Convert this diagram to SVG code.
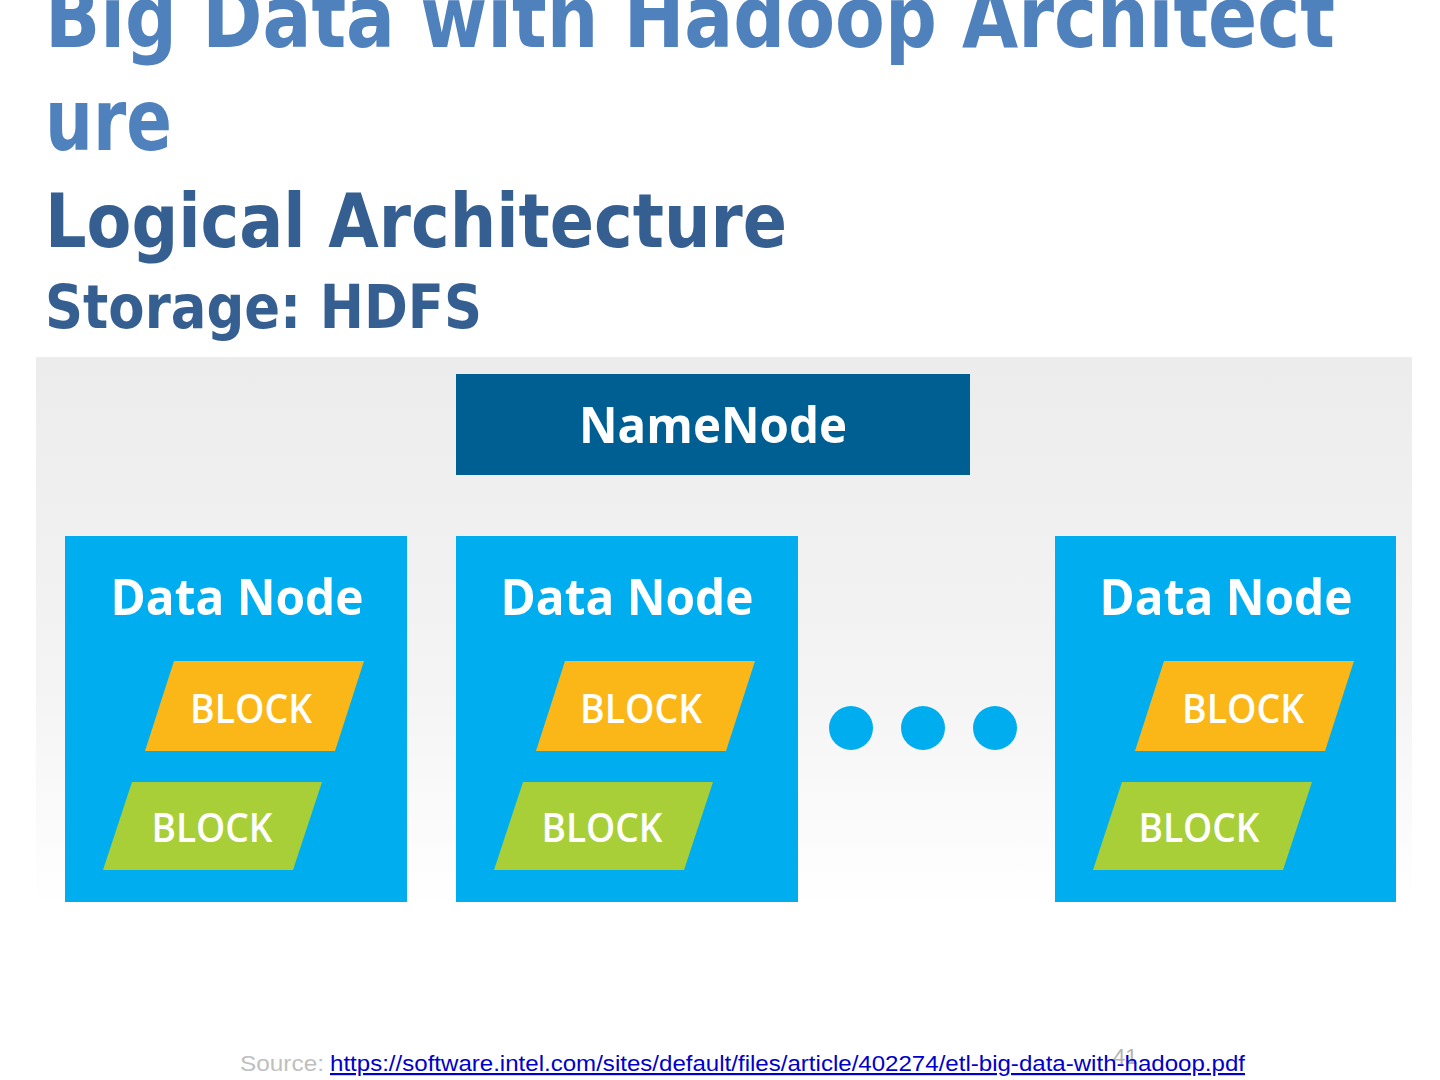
<svg xmlns="http://www.w3.org/2000/svg" width="1440" height="1080" viewBox="0 0 1440 1080">
<defs>
<linearGradient id="bg" x1="0" y1="0" x2="0" y2="1">
<stop offset="0" stop-color="#ececec"/>
<stop offset="0.6" stop-color="#f4f4f4"/>
<stop offset="1" stop-color="#ffffff"/>
</linearGradient>
<style>
.title{font-family:"DejaVu Sans Condensed","DejaVu Sans",sans-serif;font-weight:bold;fill:#4f81bd}
.sub{font-family:"DejaVu Sans Condensed","DejaVu Sans",sans-serif;font-weight:bold;fill:#365f91}
.dn{fill:#00adef}
.lbl{font-family:"Open Sans","DejaVu Sans",sans-serif;font-weight:bold;fill:#ffffff;text-anchor:middle}
.blk{font-family:"Open Sans","DejaVu Sans",sans-serif;font-weight:600;fill:#ffffff;font-size:40px;text-anchor:middle}
.org{fill:#fbb718}
.grn{fill:#a8cf38}
.dot{fill:#00adef}
</style>
</defs>
<rect width="1440" height="1080" fill="#ffffff"/>
<text class="title" x="45" y="47" font-size="86" textLength="1290" lengthAdjust="spacingAndGlyphs">Big Data with Hadoop Architect</text>
<text class="title" x="45" y="150" font-size="86" textLength="127" lengthAdjust="spacingAndGlyphs">ure</text>
<text class="sub" x="45" y="247" font-size="74" textLength="742" lengthAdjust="spacingAndGlyphs">Logical Architecture</text>
<text class="sub" x="45" y="328" font-size="61" textLength="437" lengthAdjust="spacingAndGlyphs">Storage: HDFS</text>
<rect x="36" y="357" width="1376" height="548" fill="url(#bg)"/>
<g id="connectors"/>
<g id="namenode">
<rect x="456" y="374" width="514" height="101" fill="#005f92"/>
<text class="lbl" x="713" y="443" font-size="50" textLength="268" lengthAdjust="spacingAndGlyphs">NameNode</text>
</g>
<g id="datanode1">
<rect class="dn" x="65" y="536" width="342" height="366"/>
<text class="lbl" x="237" y="615" font-size="50" textLength="253" lengthAdjust="spacingAndGlyphs">Data Node</text>
<polygon class="org" points="174,661 364,661 335,751 145,751"/>
<text class="blk" x="251" y="723" textLength="122" lengthAdjust="spacingAndGlyphs">BLOCK</text>
<polygon class="grn" points="132,782 322,782 293,870 103,870"/>
<text class="blk" x="212" y="842" textLength="121" lengthAdjust="spacingAndGlyphs">BLOCK</text>
</g>
<g id="datanode2">
<rect class="dn" x="456" y="536" width="342" height="366"/>
<text class="lbl" x="627" y="615" font-size="50" textLength="253" lengthAdjust="spacingAndGlyphs">Data Node</text>
<polygon class="org" points="565,661 755,661 726,751 536,751"/>
<text class="blk" x="641" y="723" textLength="122" lengthAdjust="spacingAndGlyphs">BLOCK</text>
<polygon class="grn" points="523,782 713,782 684,870 494,870"/>
<text class="blk" x="602" y="842" textLength="121" lengthAdjust="spacingAndGlyphs">BLOCK</text>
</g>
<g id="ellipsis">
<circle class="dot" cx="851" cy="728" r="22"/>
<circle class="dot" cx="923" cy="728" r="22"/>
<circle class="dot" cx="995" cy="728" r="22"/>
</g>
<g id="datanode3">
<rect class="dn" x="1055" y="536" width="341" height="366"/>
<text class="lbl" x="1226" y="615" font-size="50" textLength="253" lengthAdjust="spacingAndGlyphs">Data Node</text>
<polygon class="org" points="1164,661 1354,661 1325,751 1135,751"/>
<text class="blk" x="1243" y="723" textLength="122" lengthAdjust="spacingAndGlyphs">BLOCK</text>
<polygon class="grn" points="1122,782 1312,782 1283,870 1093,870"/>
<text class="blk" x="1199" y="842" textLength="121" lengthAdjust="spacingAndGlyphs">BLOCK</text>
</g>
<text x="1113" y="1064" font-family="Liberation Sans, sans-serif" font-size="22" fill="#b3b3b3">41</text>
<text x="240" y="1071" font-family="Liberation Sans, sans-serif" font-size="22" fill="#bfbfbf" textLength="84" lengthAdjust="spacingAndGlyphs">Source:</text>
<text x="330" y="1071" font-family="Liberation Sans, sans-serif" font-size="22" fill="#0000cc" text-decoration="underline" textLength="915" lengthAdjust="spacingAndGlyphs">https://software.intel.com/sites/default/files/article/402274/etl-big-data-with-hadoop.pdf</text>
</svg>
